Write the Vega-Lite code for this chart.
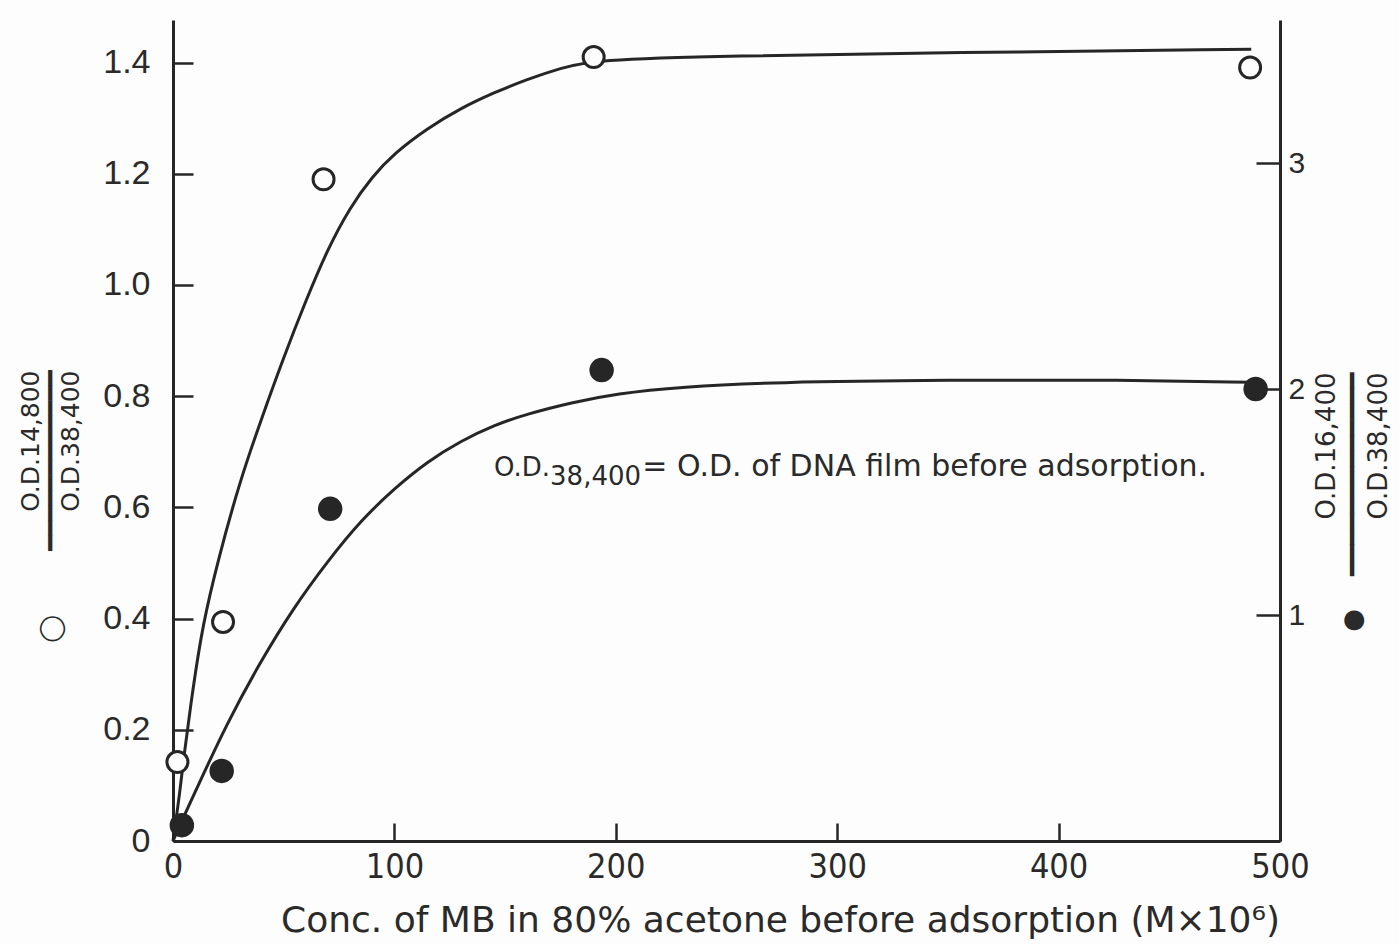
{
  "$schema": "https://vega.github.io/schema/vega-lite/v6.json",
  "width": 1107,
  "height": 821,
  "autosize": {"type": "none"},
  "padding": {"left": 173, "top": 20, "right": 119, "bottom": 103},
  "background": "#fdfdfd",
  "config": {
    "view": {"stroke": null},
    "axis": {
      "grid": false,
      "domainColor": "#262626",
      "domainWidth": 3,
      "tickColor": "#262626",
      "tickWidth": 2.5,
      "labelColor": "#2a2a2a",
      "titleColor": "#2a2a2a",
      "labelFont": "Liberation Sans",
      "titleFont": "DejaVu Sans",
      "titleFontWeight": "normal",
      "titleLimit": 3000
    }
  },
  "datasets": {
    "curveA": [
      {"x": 0, "y": 0}, {"x": 3.2, "y": 0.09}, {"x": 4.5, "y": 0.14}, {"x": 9, "y": 0.275},
      {"x": 13.5, "y": 0.39}, {"x": 20, "y": 0.5}, {"x": 30, "y": 0.645}, {"x": 40, "y": 0.76},
      {"x": 50, "y": 0.87}, {"x": 60, "y": 0.972}, {"x": 70, "y": 1.066}, {"x": 80, "y": 1.14},
      {"x": 90, "y": 1.195}, {"x": 100, "y": 1.237}, {"x": 115, "y": 1.282}, {"x": 130, "y": 1.318},
      {"x": 145, "y": 1.346}, {"x": 160, "y": 1.37}, {"x": 175, "y": 1.39}, {"x": 190, "y": 1.405},
      {"x": 250, "y": 1.412}, {"x": 350, "y": 1.418}, {"x": 487, "y": 1.424}
    ],
    "pointsA": [
      {"x": 2, "y": 0.142}, {"x": 22.6, "y": 0.394}, {"x": 68, "y": 1.19}, {"x": 190, "y": 1.41}, {"x": 486.5, "y": 1.391}
    ],
    "curveB": [
      {"x": 0, "y": 0}, {"x": 4, "y": 0.09}, {"x": 9.2, "y": 0.2}, {"x": 24.3, "y": 0.52}, {"x": 39.3, "y": 0.79},
      {"x": 54.3, "y": 1.03}, {"x": 70, "y": 1.24}, {"x": 85, "y": 1.42}, {"x": 100, "y": 1.56},
      {"x": 115, "y": 1.68}, {"x": 130, "y": 1.77}, {"x": 145, "y": 1.84}, {"x": 160, "y": 1.89},
      {"x": 180, "y": 1.94}, {"x": 200, "y": 1.98}, {"x": 230, "y": 2.01}, {"x": 270, "y": 2.03},
      {"x": 350, "y": 2.04}, {"x": 430, "y": 2.04}, {"x": 487, "y": 2.03}
    ],
    "pointsB": [
      {"x": 4, "y": 0.07}, {"x": 22, "y": 0.31}, {"x": 71, "y": 1.47}, {"x": 193.6, "y": 2.084}, {"x": 489, "y": 2.0}
    ],
    "noteParts": [
      {"x": 145, "y": 0.657, "label": "O.D."},
      {"x": 170.3, "y": 0.641, "label": "38,400"}
    ],
    "noteMain": [
      {"x": 212, "y": 0.657, "label": "= O.D. of DNA film before adsorption."}
    ]
  },
  "encoding": {
    "x": {
      "field": "x",
      "type": "quantitative",
      "scale": {"domain": [0, 500], "nice": false, "zero": false},
      "axis": {
        "orient": "bottom",
        "values": [0, 100, 200, 300, 400, 500],
        "format": "d",
        "tickSize": -18,
        "labelPadding": 27,
        "labelFont": "'DejaVu Sans Condensed', 'Liberation Sans', sans-serif",
        "labelFontSize": 34,
        "labelBaseline": "top",
        "labelFlush": false,
        "title": "Conc. of MB in 80% acetone before adsorption (M×10⁶)",
        "titleFontSize": 36,
        "titleX": 607,
        "titleY": 90,
        "titleAlign": "center",
        "titleBaseline": "alphabetic",
        "titleAngle": 0
      }
    }
  },
  "layer": [
    {
      "encoding": {
        "y": {
          "field": "y",
          "type": "quantitative",
          "scale": {"domain": [0, 1.4766], "nice": false, "zero": false},
          "axis": {
            "orient": "left",
            "values": [0, 0.2, 0.4, 0.6, 0.8, 1.0, 1.2, 1.4],
            "labelExpr": "datum.value == 0 ? '0' : format(datum.value, '.1f')",
            "tickSize": -20,
            "labelPadding": 43,
            "labelFontSize": 34,
            "labelBaseline": "middle",
            "labelFlush": false,
            "title": ["O.D.14,800", "◯\u00a0\u00a0\u00a0\u00a0\u00a0\u00a0\u00a0\u00a0━━━━━━━━━━━━", "O.D.38,400"],
            "titleFontSize": 25,
            "titleLineHeight": 20,
            "titleAngle": 270,
            "titleAlign": "right",
            "titleBaseline": "middle",
            "titleX": -143,
            "titleY": 350
          }
        }
      },
      "layer": [
        {
          "data": {"name": "curveA"},
          "mark": {"type": "line", "color": "#262626", "strokeWidth": 3, "interpolate": "basis"}
        },
        {
          "data": {"name": "pointsA"},
          "mark": {"type": "point", "shape": "circle", "filled": true, "fill": "#fdfdfd", "stroke": "#262626", "strokeWidth": 3, "size": 441, "opacity": 1}
        },
        {
          "data": {"name": "noteParts"},
          "mark": {"type": "text", "font": "DejaVu Sans", "fontSize": 26, "align": "left", "baseline": "alphabetic", "color": "#2a2a2a"},
          "encoding": {"text": {"field": "label"}}
        },
        {
          "data": {"name": "noteMain"},
          "mark": {"type": "text", "font": "DejaVu Sans", "fontSize": 30, "align": "left", "baseline": "alphabetic", "color": "#2a2a2a"},
          "encoding": {"text": {"field": "label"}}
        }
      ]
    },
    {
      "encoding": {
        "y": {
          "field": "y",
          "type": "quantitative",
          "scale": {"domain": [0, 3.633], "nice": false, "zero": false},
          "axis": {
            "orient": "right",
            "values": [1, 2, 3],
            "format": "d",
            "tickSize": -24,
            "labelPadding": 32,
            "labelFontSize": 30,
            "labelBaseline": "middle",
            "labelFlush": false,
            "title": ["O.D.16,400", "●\u00a0\u00a0\u00a0\u00a0━━━━━━━━━━━━━", "O.D.38,400"],
            "titleFontSize": 26,
            "titleLineHeight": 26,
            "titleAngle": 270,
            "titleAlign": "right",
            "titleBaseline": "middle",
            "titleX": 46,
            "titleY": 352
          }
        }
      },
      "layer": [
        {
          "data": {"name": "curveB"},
          "mark": {"type": "line", "color": "#262626", "strokeWidth": 3, "interpolate": "basis"}
        },
        {
          "data": {"name": "pointsB"},
          "mark": {"type": "circle", "color": "#262626", "size": 600, "opacity": 1}
        }
      ]
    }
  ],
  "resolve": {"scale": {"y": "independent"}}
}
